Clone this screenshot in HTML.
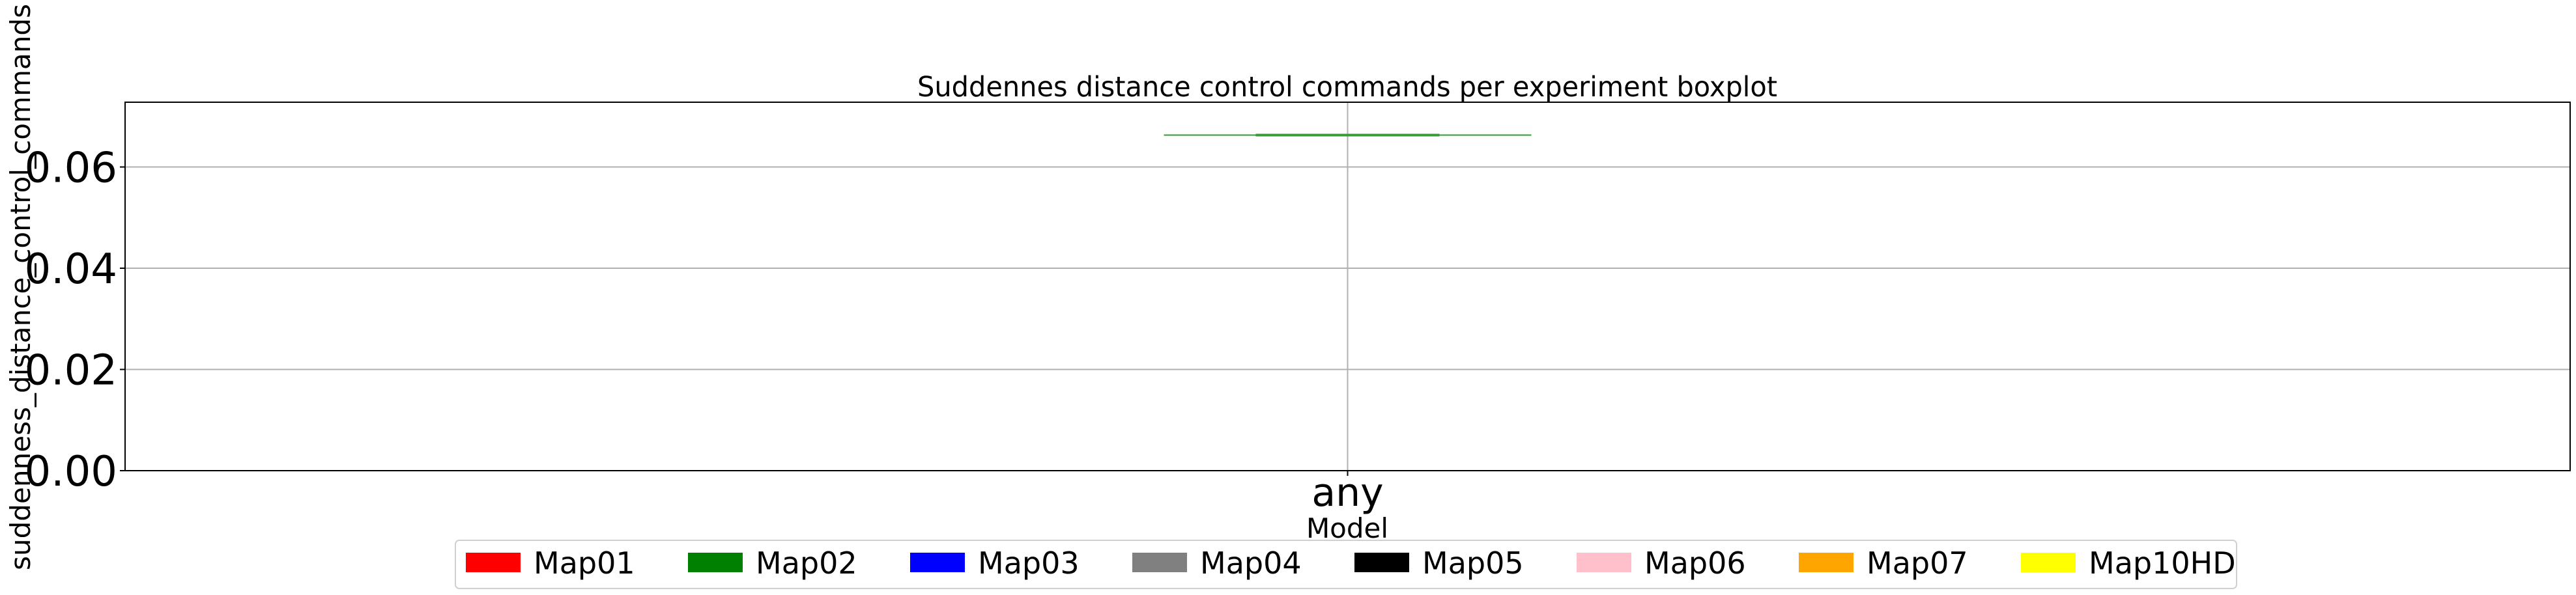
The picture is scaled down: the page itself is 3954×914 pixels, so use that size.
<!DOCTYPE html>
<html><head><meta charset="utf-8"><style>
html,body{margin:0;padding:0;background:#fff;}
svg{display:block;font-family:"DejaVu Sans","Liberation Sans",sans-serif;}
</style></head><body>
<svg id="chart" width="3954" height="914" viewBox="0 0 3954 914" xmlns="http://www.w3.org/2000/svg">
<rect x="0" y="0" width="3954" height="914" fill="#fff"/>
<text x="2068" y="148" font-size="43" text-anchor="middle" textLength="1320" lengthAdjust="spacingAndGlyphs">Suddennes distance control commands per experiment boxplot</text>
<g id="grid"></g>
<g id="marks"></g>
<rect x="192" y="157" width="3753" height="566" fill="none" stroke="#000" stroke-width="2"/>
<g id="axes"></g>
<text x="2068" y="826" font-size="42" text-anchor="middle">Model</text>
<text transform="translate(46,441) rotate(-90)" font-size="42" text-anchor="middle" textLength="870" lengthAdjust="spacingAndGlyphs">suddenness_distance_control_commands</text>
<g id="legend"></g>
</svg>
<script>
const categories = ["any"];
const medians = [0.0663];
const q1s = [0.0663];
const q3s = [0.0663];
const whiskLo = [0.0663];
const whiskHi = [0.0663];
const yTicks = [0, 0.02, 0.04, 0.06];
const yTickLabels = ["0.00", "0.02", "0.04", "0.06"];
const legendLabels = ["Map01","Map02","Map03","Map04","Map05","Map06","Map07","Map10HD"];
const legendColors = ["#ff0000","#008000","#0000ff","#808080","#000000","#ffc0cb","#ffa500","#ffff00"];

const NS = "http://www.w3.org/2000/svg";
const L = 192, R = 3945, T = 157, B = 723;
const yMax = 0.0728;
function y(v){ return B - v / yMax * (B - T); }
function x(i){ return L + (i + 0.5) * (R - L) / categories.length; }
function mk(tag, attrs, parent){ const e = document.createElementNS(NS, tag); for (const k in attrs) e.setAttribute(k, attrs[k]); parent.appendChild(e); return e; }

const grid = document.getElementById('grid');
const axes = document.getElementById('axes');
const marks = document.getElementById('marks');
const legend = document.getElementById('legend');

yTicks.forEach((v, i) => {
  if (v > 0) {
    const g = mk('line', {x1: L, x2: R, y1: y(v), y2: y(v), stroke: '#b0b0b0', 'stroke-width': 2}, grid);
    
    
  }
  const t = mk('line', {x1: L - 8, x2: L, y1: y(v), y2: y(v), stroke: '#000', 'stroke-width': 2}, axes);
  
  
  const lb = mk('text', {x: 180, y: y(v) + 23, 'font-size': 64, 'text-anchor': 'end'}, axes);
  lb.textContent = yTickLabels[i];
  
  
});

categories.forEach((c, i) => {
  const cx = x(i);
  const vg = mk('line', {x1: cx, x2: cx, y1: T, y2: B, stroke: '#b0b0b0', 'stroke-width': 2}, grid);
  
  
  const tk = mk('line', {x1: cx, x2: cx, y1: B, y2: B + 8, stroke: '#000', 'stroke-width': 2}, axes);
  
  
  const lb = mk('text', {x: cx, y: 777, 'font-size': 60, 'text-anchor': 'middle'}, axes);
  lb.textContent = c;
  
  

  const capHalf = 282, boxHalf = 141;
  const wl = mk('line', {x1: cx - capHalf, x2: cx + capHalf, y1: y(whiskLo[i]), y2: y(whiskLo[i]), stroke: '#2ca02c', 'stroke-width': 2}, marks);
  
  
  const wh = mk('line', {x1: cx - capHalf, x2: cx + capHalf, y1: y(whiskHi[i]), y2: y(whiskHi[i]), stroke: '#2ca02c', 'stroke-width': 2}, marks);
  
  
  const bx = mk('rect', {x: cx - boxHalf, y: y(q3s[i]), width: 2 * boxHalf, height: Math.max(0.01, y(q1s[i]) - y(q3s[i])), fill: 'none', stroke: '#3a8f3a', 'stroke-width': 2}, marks);
  
  
  const md = mk('line', {x1: cx - boxHalf, x2: cx + boxHalf, y1: y(medians[i]), y2: y(medians[i]), stroke: '#3c963c', 'stroke-width': 4}, marks);
  
  
});

const lbox = mk('rect', {x: 699, y: 830, width: 2734, height: 74, rx: 6, fill: '#fff', stroke: '#d0d0d0', 'stroke-width': 2}, legend);


legendLabels.forEach((lab, i) => {
  const px = 715 + i * 341;
  const p = mk('rect', {x: px, y: 849, width: 84, height: 30, fill: legendColors[i]}, legend);
  
  
  const t = mk('text', {x: px + 104, y: 881, 'font-size': 46}, legend);
  t.textContent = lab;
  
  
});
</script>
</body></html>
